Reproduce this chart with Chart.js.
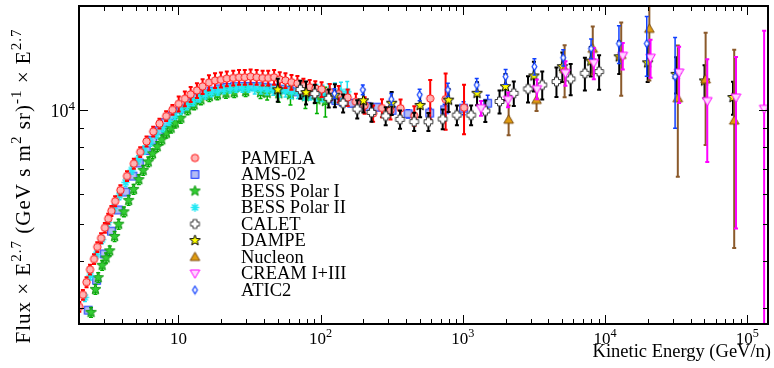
<!DOCTYPE html>
<html>
<head>
<meta charset="utf-8">
<script src="https://cdn.jsdelivr.net/npm/chart.js@4"></script>
<style>
  html, body { margin: 0; padding: 0; background: #fff; }
  #wrap { width: 774px; height: 368px; position: relative; }
</style>
</head>
<body>
<div id="wrap"><canvas id="chart"></canvas></div>
<script>
// energies in GeV/n, flux x E^2.7, relative errors (up / down)
const pamelaE = [2.01,2.13,2.26,2.39,2.55,2.69,2.86,3.04,3.21,3.38,3.59,3.91,4.35,4.86,5.39,5.97,6.65,7.36,8.20,9.08,10.05,11.1,12.2,13.5,14.8,16.4,18.1,19.9,21.9,24.3,26.7,29.3,32.2,35.5,39.1,42.8,47.1,51.6,56.6,62.4,68.7,75.7,83.8,91.8,101.6,116,134,155,177,204,234,270,310,365,456,590,757,1020];
const pamelaF = [3020,3250,3510,3790,4040,4350,4590,4890,5170,5420,5750,6150,6700,7230,7760,8280,8790,9230,9660,10040,10410,10740,11030,11300,11580,11850,12000,12050,12140,12190,12240,12240,12290,12240,12190,12190,12240,12080,12000,11880,11800,11610,11520,11430,11370,11190,11050,10820,10540,10320,9820,10150,10010,10130,9680,10750,10710,10170];
const pamelaErr = [0.03,0.03,0.03,0.03,0.03,0.03,0.03,0.03,0.03,0.03,0.03,0.03,0.03,0.03,0.03,0.03,0.03,0.03,0.03,0.03,0.045,0.045,0.045,0.045,0.045,0.045,0.045,0.045,0.045,0.045,0.045,0.045,0.045,0.045,0.045,0.045,0.045,0.045,0.045,0.045,0.045,0.045,0.045,0.045,0.045,0.05,0.05,0.05,0.05,0.05,0.05,0.055,0.055,0.055,0.06,0.12,0.17,0.15];

const amsE = [2.32,2.66,3.01,3.38,3.78,4.26,4.79,5.31,5.94,6.58,7.33,8.07,9.03,10.3,11.7,13.2,15.0,17.0,19.3,21.9,24.8,28.2,32.0,36.3,41.2,46.7,53.0,60.1,68.2,77.4,87.8,99.6,113,128,145,165,187,212,252,318,412,585,745,1012,1496];
const amsF = [2960,3550,4170,4790,5450,6080,6700,7260,7830,8340,8840,9280,9680,10100,10480,10800,11050,11250,11400,11500,11560,11580,11580,11560,11520,11460,11380,11300,11200,11090,10980,10860,10740,10620,10500,10450,10350,10250,10200,10000,9800,9840,10040,10140,10450];
const amsErr = [0.015,0.015,0.015,0.015,0.015,0.015,0.015,0.015,0.015,0.015,0.015,0.015,0.015,0.015,0.015,0.015,0.015,0.015,0.015,0.015,0.015,0.015,0.015,0.015,0.015,0.015,0.015,0.015,0.015,0.015,0.015,0.015,0.015,0.015,0.015,0.02,0.02,0.02,0.02,0.025,0.025,0.03,0.035,0.04,0.05];

const bess1E = [2.43,2.61,2.73,2.91,3.10,3.29,3.56,3.80,4.14,4.47,4.84,5.27,5.66,6.14,6.58,7.10,7.64,8.24,8.89,9.53,10.4,11.6,12.9,14.4,16.5,18.8,21.6,24.7,29.7,37.8,42.1,50.8,61.4,78.2,94.2,108];
const bess1F = [2920,3360,3610,3890,4070,4250,4640,5000,5390,5780,6180,6560,6940,7310,7680,8020,8360,8710,8980,9260,9540,10040,10350,10670,10890,11000,11100,11150,11220,11150,11100,11070,11000,10880,10670,10560];
const bess1Err = [0.03,0.03,0.03,0.03,0.03,0.03,0.03,0.03,0.03,0.03,0.03,0.03,0.03,0.03,0.03,0.03,0.03,0.03,0.03,0.03,0.03,0.03,0.03,0.03,0.03,0.03,0.03,0.03,0.03,0.035,0.04,0.05,0.06,0.07,0.08,0.09];

const bess2E = [2.2,2.4,2.65,2.9,3.2,3.5,3.85,4.25,4.7,5.2,5.75,6.35,7.0,7.75,8.55,9.45,10.4,11.5,12.7,14.0,15.5,17.1,18.9,20.9,23.1,25.5,28.2,31.1,34.4,38.0,42.0,46.4,51.3,56.7,62.6,69.2,76.5,84.5,93.4,103,114,126,139,154];
const bess2F = [3200,3650,4150,4550,5050,5500,5950,6450,6950,7400,7850,8250,8650,9000,9350,9700,10000,10300,10550,10800,11000,11150,11250,11350,11400,11450,11450,11450,11400,11400,11350,11300,11250,11250,11200,11200,11150,11150,11150,11100,11150,11150,11200,11200];
const bess2Err = [0.025,0.025,0.025,0.025,0.025,0.025,0.025,0.025,0.025,0.025,0.025,0.025,0.025,0.025,0.025,0.025,0.025,0.025,0.025,0.025,0.025,0.025,0.025,0.025,0.025,0.025,0.025,0.025,0.03,0.03,0.03,0.03,0.035,0.035,0.04,0.04,0.045,0.045,0.05,0.05,0.055,0.06,0.06,0.065];

const caletE = [72,91,114,144,181,228,287,362,455,573,722,909,1144,1440,1813,2283,2874,3618,4555,5734,7219,9088];
const caletF = [11360,11080,10770,10450,10080,9880,9670,9470,9340,9330,9490,9720,9720,9970,10560,11100,11400,11680,11920,12120,12540,12670];
const caletErr = [0.055,0.055,0.055,0.055,0.055,0.055,0.055,0.055,0.055,0.055,0.06,0.06,0.06,0.065,0.07,0.075,0.08,0.085,0.09,0.095,0.10,0.105];

const dampeE = [50,79,126,200,316,501,794,1259,1995,3162,5012,7943,12589,19953,31623,50119,79433];
const dampeF = [11340,11150,10970,10610,10450,10310,10650,11100,11560,12340,13060,13510,13870,13370,12460,11970,10820];
const dampeErr = [0.07,0.07,0.07,0.07,0.07,0.07,0.07,0.07,0.08,0.09,0.09,0.09,0.10,0.11,0.11,0.10,0.10];

const nucleonE = [2100,3300,5200,8200,13000,20500,32500,51000,81000];
const nucleonF = [9450,10660,12860,14560,14020,16440,10770,12080,9400];
const nucleonErr = [0.09,0.065,0.157,0.145,0.22,0.27,0.38,0.33,0.54];

const creamE = [1343,2080,3318,5270,8340,13330,20900,33190,52360,83400,131500];
const creamF = [10140,10670,11390,12560,13360,13960,13790,12600,10590,10820,10100];
const creamErrUp = [0.045,0.045,0.06,0.075,0.095,0.08,0.115,0.17,0.29,0.28,0.61];
const creamErrDn = [0.045,0.045,0.06,0.075,0.095,0.08,0.115,0.17,0.31,0.55,0.9];

const aticE = [125,198,314,497,785,1253,2000,3188,5080,7980,12530,19660,31100];
const aticF = [11080,11340,10710,11000,11340,11680,12290,13060,13790,14580,15030,15030,12290];
const aticErr = [0.03,0.03,0.035,0.035,0.04,0.04,0.045,0.05,0.05,0.06,0.115,0.18,0.27];

const xMajor = [10, 100, 1000, 10000, 100000];
const xMajorExp = ['', '2', '3', '4', '5'];
const yMajor = [10000];
const yMajorExp = ['4'];
const legendNames = ['PAMELA','AMS-02','BESS Polar I','BESS Polar II','CALET','DAMPE','Nucleon','CREAM I+III','ATIC2'];

const FONT = '"Liberation Serif", "Times New Roman", serif';

// marker images
function mk(size, draw) {
  const c = document.createElement('canvas');
  c.width = size; c.height = size;
  const g = c.getContext('2d');
  g.translate(size / 2, size / 2);
  draw(g);
  return c;
}
function starPath(g, ro, ri) {
  g.beginPath();
  for (let i = 0; i < 10; i++) {
    const r = i % 2 ? ri : ro;
    const a = -Math.PI / 2 + i * Math.PI / 5;
    g.lineTo(r * Math.cos(a), r * Math.sin(a));
  }
  g.closePath();
}
const mCircle = mk(11, g => { g.beginPath(); g.arc(0, 0, 3.7, 0, Math.PI * 2); g.fillStyle = '#ffb4b4'; g.fill(); g.strokeStyle = '#ff1010'; g.lineWidth = 1; g.stroke(); });
const mSquare = mk(11, g => { g.fillStyle = '#b4bcf4'; g.fillRect(-3.8, -3.8, 7.6, 7.6); g.strokeStyle = '#1030ff'; g.lineWidth = 1; g.strokeRect(-3.8, -3.8, 7.6, 7.6); });
const mGreenStar = mk(13, g => { starPath(g, 5.6, 2.4); g.fillStyle = '#33cc33'; g.fill(); g.strokeStyle = '#119911'; g.lineWidth = 1; g.stroke(); });
const mAsterisk = mk(11, g => { g.strokeStyle = '#22e8f4'; g.lineWidth = 1.6; g.beginPath(); for (let i = 0; i < 4; i++) { const a = i * Math.PI / 4; g.moveTo(-4.2 * Math.cos(a), -4.2 * Math.sin(a)); g.lineTo(4.2 * Math.cos(a), 4.2 * Math.sin(a)); } g.stroke(); });
const mPlus = mk(13, g => { const a = 4.4, b = 2; g.beginPath(); g.moveTo(-b, -a); g.lineTo(b, -a); g.lineTo(b, -b); g.lineTo(a, -b); g.lineTo(a, b); g.lineTo(b, b); g.lineTo(b, a); g.lineTo(-b, a); g.lineTo(-b, b); g.lineTo(-a, b); g.lineTo(-a, -b); g.lineTo(-b, -b); g.closePath(); g.fillStyle = '#ffffff'; g.fill(); g.strokeStyle = '#333333'; g.lineWidth = 1; g.stroke(); });
const mYellowStar = mk(13, g => { starPath(g, 5.6, 2.4); g.fillStyle = '#ffff00'; g.fill(); g.strokeStyle = '#000000'; g.lineWidth = 1; g.stroke(); });
const mTriUp = mk(13, g => { g.beginPath(); g.moveTo(0, -4.8); g.lineTo(4.8, 3.5); g.lineTo(-4.8, 3.5); g.closePath(); g.fillStyle = '#e09c10'; g.fill(); g.strokeStyle = '#7a4a10'; g.lineWidth = 1; g.stroke(); });
const mTriDn = mk(13, g => { g.beginPath(); g.moveTo(0, 4.8); g.lineTo(4.8, -3.5); g.lineTo(-4.8, -3.5); g.closePath(); g.fillStyle = '#ffd6ff'; g.fill(); g.strokeStyle = '#ff00ff'; g.lineWidth = 1; g.stroke(); });
const mDiamond = mk(11, g => { g.beginPath(); g.moveTo(0, -3.8); g.lineTo(2.4, 0); g.lineTo(0, 3.8); g.lineTo(-2.4, 0); g.closePath(); g.fillStyle = '#ffffff'; g.fill(); g.strokeStyle = '#1040ff'; g.lineWidth = 1.2; g.stroke(); });

function series(i, E, F, up, dn, marker, barColor, barWidth, order) {
  return {
    label: legendNames[i],
    data: E.map((e, k) => ({ x: e, y: F[k] })),
    errUp: up, errDn: dn,
    pointStyle: marker, pointRadius: 5, pointHoverRadius: 5,
    showLine: false,
    barColor: barColor, barWidth: barWidth,
    order: order
  };
}

const datasets = [
  series(0, pamelaE, pamelaF, pamelaErr, pamelaErr, mCircle, '#ff0000', 2, 6),
  series(1, amsE, amsF, amsErr, amsErr, mSquare, '#1030ff', 1.5, 9),
  series(2, bess1E, bess1F, bess1Err, bess1Err, mGreenStar, '#00b000', 1.5, 8),
  series(3, bess2E, bess2F, bess2Err, bess2Err, mAsterisk, '#20e0f0', 1.5, 7),
  series(4, caletE, caletF, caletErr, caletErr, mPlus, '#000000', 2, 5),
  series(5, dampeE, dampeF, dampeErr, dampeErr, mYellowStar, '#000000', 2, 4),
  series(6, nucleonE, nucleonF, nucleonErr, nucleonErr, mTriUp, '#8b5a2b', 2, 3),
  series(7, creamE, creamF, creamErrUp, creamErrDn, mTriDn, '#ff00ff', 2, 2),
  series(8, aticE, aticF, aticErr, aticErr, mDiamond, '#1040ff', 1.5, 1)
];

// text with superscripts: parts = [[text, isSup], ...]
function richWidth(ctx, parts, size) {
  let w = 0;
  parts.forEach(p => {
    ctx.font = (p[1] ? size * 0.72 : size) + 'px ' + FONT;
    w += ctx.measureText(p[0]).width;
  });
  return w;
}
function drawRich(ctx, parts, x, y, size) {
  let cx = x;
  parts.forEach(p => {
    ctx.font = (p[1] ? size * 0.72 : size) + 'px ' + FONT;
    ctx.fillText(p[0], cx, p[1] ? y - size * 0.42 : y);
    cx += ctx.measureText(p[0]).width;
  });
}

const axesPlugin = {
  id: 'axesPlugin',
  beforeDatasetDraw(chart, args) {
    const ds = chart.data.datasets[args.index];
    const xs = chart.scales.x, ys = chart.scales.y, ca = chart.chartArea;
    const ctx = chart.ctx;
    ctx.save();
    ctx.beginPath();
    ctx.rect(ca.left, ca.top, ca.right - ca.left, ca.bottom - ca.top);
    ctx.clip();
    ctx.strokeStyle = ds.barColor;
    ctx.lineWidth = ds.barWidth;
    ds.data.forEach((p, i) => {
      const px = xs.getPixelForValue(p.x);
      const y1 = ys.getPixelForValue(p.y * (1 + ds.errUp[i]));
      const y2 = ys.getPixelForValue(p.y * (1 - ds.errDn[i]));
      ctx.beginPath();
      ctx.moveTo(px, y1); ctx.lineTo(px, y2);
      ctx.moveTo(px - 2, y1); ctx.lineTo(px + 2, y1);
      ctx.moveTo(px - 2, y2); ctx.lineTo(px + 2, y2);
      ctx.stroke();
    });
    ctx.restore();
  },
  afterDraw(chart) {
    const ctx = chart.ctx, ca = chart.chartArea;
    const xs = chart.scales.x, ys = chart.scales.y;
    ctx.save();
    ctx.strokeStyle = '#000';
    ctx.fillStyle = '#000';
    // frame
    ctx.lineWidth = 2;
    ctx.strokeRect(ca.left, ca.top, ca.right - ca.left, ca.bottom - ca.top);
    // ticks, pointing inward on all sides
    ctx.lineWidth = 1;
    ctx.beginPath();
    for (let n = 0; n <= 5; n++) {
      for (let k = 1; k <= 9; k++) {
        const v = k * Math.pow(10, n);
        if (v < xs.min || v > xs.max) continue;
        const px = Math.round(xs.getPixelForValue(v)) + 0.5;
        const len = k === 1 ? 9 : 5;
        ctx.moveTo(px, ca.bottom); ctx.lineTo(px, ca.bottom - len);
        ctx.moveTo(px, ca.top); ctx.lineTo(px, ca.top + len);
      }
    }
    for (let n = 3; n <= 4; n++) {
      for (let k = 1; k <= 9; k++) {
        const v = k * Math.pow(10, n);
        if (v < ys.min || v > ys.max) continue;
        const py = Math.round(ys.getPixelForValue(v)) + 0.5;
        const len = k === 1 ? 9 : 5;
        ctx.moveTo(ca.left, py); ctx.lineTo(ca.left + len, py);
        ctx.moveTo(ca.right, py); ctx.lineTo(ca.right - len, py);
      }
    }
    ctx.stroke();

    // tick labels
    ctx.textBaseline = 'alphabetic';
    ctx.textAlign = 'left';
    xMajor.forEach((v, i) => {
      const parts = [['10', 0]];
      if (xMajorExp[i]) parts.push([xMajorExp[i], 1]);
      const w = richWidth(ctx, parts, 17);
      drawRich(ctx, parts, xs.getPixelForValue(v) - w / 2, 344, 17);
    });
    yMajor.forEach((v, i) => {
      const parts = [['10', 0], [yMajorExp[i], 1]];
      const w = richWidth(ctx, parts, 18);
      drawRich(ctx, parts, ca.left - 4 - w, ys.getPixelForValue(v) + 7, 18);
    });

    // axis titles
    const xt = [['Kinetic Energy (GeV/n)', 0]];
    const xw = richWidth(ctx, xt, 18.5);
    drawRich(ctx, xt, 771 - xw, 357, 18.5);

    const yt = [['Flux \u00d7 E', 0], ['2.7', 1], [' (GeV s m', 0], ['2', 1], [' sr)', 0], ['-1', 1], [' \u00d7 E', 0], ['2.7', 1]];
    const ysz = 21;
    ctx.letterSpacing = '1px';
    const yw = richWidth(ctx, yt, ysz);
    ctx.save();
    ctx.translate(30, 186);
    ctx.rotate(-Math.PI / 2);
    drawRich(ctx, yt, -yw / 2, 0, ysz);
    ctx.restore();
    ctx.letterSpacing = '0px';

    // legend
    const rows = [158, 174.5, 191, 207.5, 224, 240.5, 257, 273.5, 290];
    chart.data.datasets.forEach((ds, i) => {
      const img = ds.pointStyle;
      ctx.drawImage(img, 195 - img.width / 2, rows[i] - img.height / 2);
      ctx.font = '18.5px ' + FONT;
      ctx.textBaseline = 'middle';
      ctx.fillText(ds.label, 241, rows[i] + 1);
    });
    ctx.restore();
  }
};

new Chart(document.getElementById('chart'), {
  type: 'scatter',
  data: { datasets: datasets },
  options: {
    responsive: true,
    maintainAspectRatio: false,
    animation: false,
    devicePixelRatio: 1,
    layout: { padding: { top: 4, right: 1, left: 0, bottom: 0 } },
    plugins: { legend: { display: false }, tooltip: { enabled: false } },
    scales: {
      x: {
        type: 'logarithmic', min: 2, max: 140000,
        ticks: { display: false }, grid: { display: false }, border: { display: false },
        afterFit(s) { s.height = 44; }
      },
      y: {
        type: 'logarithmic', min: 2720, max: 18900,
        ticks: { display: false }, grid: { display: false }, border: { display: false },
        afterFit(s) { s.width = 79; }
      }
    }
  },
  plugins: [axesPlugin]
});
</script>
</body>
</html>
